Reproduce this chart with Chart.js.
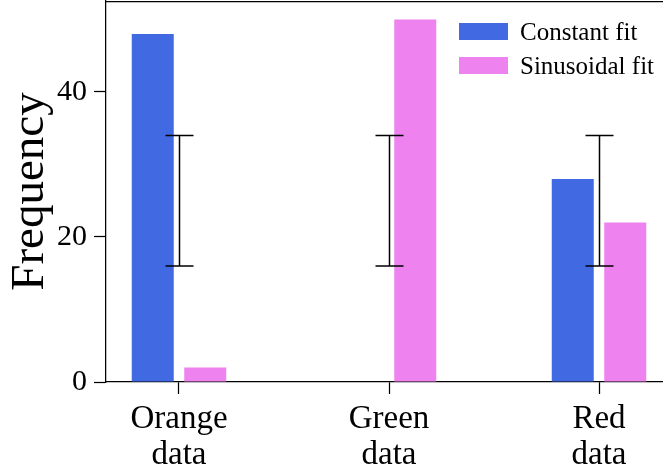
<!DOCTYPE html>
<html>
<head>
<meta charset="utf-8">
<script src="https://cdn.jsdelivr.net/npm/chart.js@4.4.1/dist/chart.umd.min.js"></script>
<style>
  html, body { margin: 0; padding: 0; background: #fff; overflow: hidden; }
</style>
</head>
<body>
<canvas id="grafica" width="672" height="470"></canvas>
<script>
const categorias = [["Orange", "data"], ["Green", "data"], ["Red", "data"]];
const constante = [48, 0, 28];
const sinusoidal = [2, 50, 22];
const errorBajo = [16, 16, 16];
const errorAlto = [34, 34, 34];
const ticksY = [0, 20, 40];
const series = ["Constant fit", "Sinusoidal fit"];
const colores = ["#4169E1", "#EE82EE"];

const fuente = "'Liberation Serif', 'Times New Roman', serif";

// lineas extra: borde superior, barras de error y leyenda
const extras = {
  id: "extras",
  afterDatasetsDraw(chart) {
    const { ctx, chartArea, scales: { x, y } } = chart;
    ctx.save();
    ctx.strokeStyle = "#000";
    ctx.lineWidth = 1.25;
    ctx.beginPath();
    ctx.moveTo(chartArea.left, chartArea.top + 0.5);
    ctx.lineTo(chartArea.right, chartArea.top + 0.5);
    ctx.stroke();

    ctx.lineWidth = 1.5;
    errorBajo.forEach((lo, i) => {
      const px = Math.round(x.getPixelForValue(i)) + 0.5;
      const y1 = y.getPixelForValue(lo);
      const y2 = y.getPixelForValue(errorAlto[i]);
      ctx.beginPath();
      ctx.moveTo(px, y1); ctx.lineTo(px, y2);
      ctx.moveTo(px - 14, y1); ctx.lineTo(px + 14, y1);
      ctx.moveTo(px - 14, y2); ctx.lineTo(px + 14, y2);
      ctx.stroke();
    });

    const lx = chartArea.right - 213;
    ctx.font = "25px " + fuente;
    ctx.textBaseline = "alphabetic";
    series.forEach((nombre, i) => {
      const top = 23 + i * 34;
      ctx.fillStyle = colores[i];
      ctx.fillRect(lx, top, 49, 17);
      ctx.fillStyle = "#000";
      ctx.fillText(nombre, lx + 61, top + 17);
    });
    ctx.restore();
  }
};

const datasets = series.map((nombre, s) => ({
  label: nombre,
  data: (s === 0 ? constante : sinusoidal).map((v, i) => ({ x: i, y: v })),
  backgroundColor: colores[s],
  borderWidth: 0,
  categoryPercentage: 0.5,
  barPercentage: 0.8,
}));

new Chart(document.getElementById("grafica"), {
  type: "bar",
  data: { datasets },
  plugins: [extras],
  options: {
    responsive: false,
    animation: false,
    layout: { padding: { top: 1, left: 0, right: 0, bottom: 0 } },
    plugins: { legend: { display: false }, tooltip: { enabled: false } },
    scales: {
      x: {
        type: "linear",
        offset: false,
        min: -0.3476,
        max: 2.3476,
        afterBuildTicks: s => { s.ticks = categorias.map((_, i) => ({ value: i })); },
        afterFit: s => { s.height = 88; s.paddingLeft = 0; s.paddingRight = 0; },
        grid: { display: true, offset: false, drawOnChartArea: false, drawTicks: true, tickLength: 12, tickColor: "#000", tickWidth: 1.25 },
        border: { display: true, color: "#000", width: 1.25 },
        ticks: {
          color: "#000",
          padding: 7,
          maxRotation: 0,
          autoSkip: false,
          font: { family: fuente, size: 33, lineHeight: 1.09 },
          callback: v => categorias[v] || "",
        },
      },
      y: {
        min: 0,
        max: 52.55,
        afterBuildTicks: s => { s.ticks = ticksY.map(v => ({ value: v })); },
        afterFit: s => { s.width = 106; s.paddingTop = 0; s.paddingBottom = 0; },
        grid: { display: true, drawOnChartArea: false, drawTicks: true, tickLength: 12, tickColor: "#000", tickWidth: 1.25 },
        border: { display: true, color: "#000", width: 1.25 },
        ticks: { color: "#000", padding: 7, font: { family: fuente, size: 30 } },
        title: {
          display: true,
          text: "Frequency",
          color: "#000",
          padding: { top: 5, bottom: 0 },
          font: { family: fuente, size: 47, lineHeight: 1.1 },
        },
      },
    },
  },
});
</script>
</body>
</html>
